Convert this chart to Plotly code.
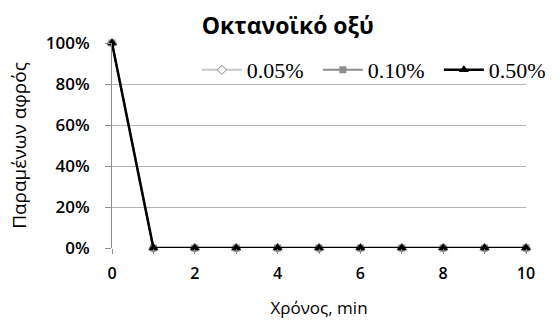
import plotly.graph_objects as go

# Foam remaining over time for three octanoic acid concentrations
time_min = [0, 1, 2, 3, 4, 5, 6, 7, 8, 9, 10]
foam_005 = [1.0, 0, 0, 0, 0, 0, 0, 0, 0, 0, 0]
foam_010 = [1.0, 0, 0, 0, 0, 0, 0, 0, 0, 0, 0]
foam_050 = [1.0, 0, 0, 0, 0, 0, 0, 0, 0, 0, 0]
series_names = ["0.05%", "0.10%", "0.50%"]

x_tick_vals = list(range(0, 11))
x_tick_text = [str(v) if v % 2 == 0 else "" for v in x_tick_vals]
y_tick_vals = [0, 0.2, 0.4, 0.6, 0.8, 1.0]

SANS = "Open Sans, Liberation Sans, sans-serif"
SERIF = "Liberation Serif, DejaVu Serif, serif"

fig = go.Figure()
fig.add_trace(go.Scatter(
    x=time_min, y=foam_005, name=series_names[0], mode="lines+markers", cliponaxis=False,
    line=dict(color="#c8c8c8", width=2),
    marker=dict(symbol="diamond", size=7, color="white", line=dict(color="#7f7f7f", width=1)),
))
fig.add_trace(go.Scatter(
    x=time_min, y=foam_010, name=series_names[1], mode="lines+markers", cliponaxis=False,
    line=dict(color="#8c8c8c", width=2),
    marker=dict(symbol="square", size=7, color="#8c8c8c"),
))
fig.add_trace(go.Scatter(
    x=time_min, y=foam_050, name=series_names[2], mode="lines+markers", cliponaxis=False,
    line=dict(color="black", width=2.5),
    marker=dict(symbol="triangle-up", size=9, color="black"),
))

fig.update_layout(
    width=560, height=321,
    margin=dict(l=112, r=34, t=43, b=73, autoexpand=False),
    paper_bgcolor="white", plot_bgcolor="white",
    font=dict(family=SANS, size=16, color="#1a1a1a"),
    title=dict(text="<b>Οκτανοϊκό οξύ</b>", x=0.514, xanchor="center", y=0.92, yanchor="middle",
               font=dict(size=23, color="black")),
    showlegend=True,
    legend=dict(orientation="h", x=0.205, y=0.868, xanchor="left", yanchor="middle",
                bgcolor="rgba(0,0,0,0)", font=dict(family=SERIF, size=22, color="black"),
                itemwidth=40, entrywidth=66, entrywidthmode="pixels",
                tracegroupgap=0, traceorder="normal"),
    xaxis=dict(
        range=[0, 10], tickvals=x_tick_vals, ticktext=x_tick_text,
        ticks="outside", ticklen=5, tickcolor="#8c8c8c", ticklabelstandoff=6,
        showgrid=False, zeroline=False, showline=False,
        tickfont=dict(family=SANS, size=16, color="black", weight=600),
        title=dict(text="Χρόνος, min", font=dict(family=SANS, size=17, color="black"), standoff=18),
    ),
    yaxis=dict(
        range=[0, 1.0], tickvals=y_tick_vals, tickformat=".0%",
        ticks="outside", ticklen=6, tickcolor="#8c8c8c", ticklabelstandoff=12,
        showgrid=True, gridcolor="#b4b4b4", gridwidth=1,
        zeroline=False, showline=True, linecolor="#8c8c8c", linewidth=1,
        tickfont=dict(family=SANS, size=17, color="black", weight=600),
        title=dict(text="Παραμένων αφρός", font=dict(family=SANS, size=19, color="black"), standoff=14),
    ),
)

fig.write_html("out.html")
